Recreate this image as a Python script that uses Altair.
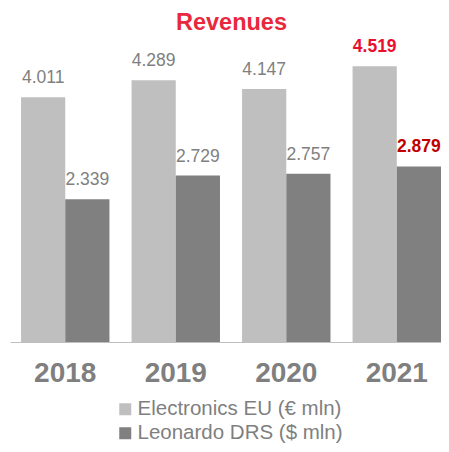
import altair as alt
import pandas as pd

years = ["2018", "2019", "2020", "2021"]
electronics_eu = [4011, 4289, 4147, 4519]
leonardo_drs = [2339, 2729, 2757, 2879]
series_names = ["Electronics EU (€ mln)", "Leonardo DRS ($ mln)"]

rows = []
for i, y in enumerate(years):
    rows.append({"year": y, "series": series_names[0], "value": electronics_eu[i]})
    rows.append({"year": y, "series": series_names[1], "value": leonardo_drs[i]})
df = pd.DataFrame(rows)

FONT = "Liberation Sans"

base = alt.Chart(df).encode(
    x=alt.X(
        "year:N",
        sort=years,
        scale=alt.Scale(paddingInner=0.2, paddingOuter=0.05, align=1),
        axis=alt.Axis(
            title=None, labelAngle=0, labelFontSize=28, labelFontWeight="bold",
            labelColor="#7f7f7f", labelFont=FONT, labelPadding=17, ticks=False,
            domainColor="#bfbfbf", domainWidth=1,
        ),
    ),
    xOffset=alt.XOffset("series:N", sort=series_names,
                        scale=alt.Scale(paddingInner=0, paddingOuter=0)),
    y=alt.Y("value:Q", scale=alt.Scale(domain=[0, 5000]), axis=None),
)

bars = base.mark_bar().encode(
    color=alt.Color(
        "series:N", sort=series_names,
        scale=alt.Scale(domain=series_names, range=["#bfbfbf", "#808080"]),
        legend=alt.Legend(
            title=None, orient="none", legendX=105, legendY=362,
            labelFontSize=20.5, labelColor="#7f7f7f", labelFont=FONT,
            labelLimit=0,
            symbolType="square", symbolSize=144, symbolStrokeWidth=0,
            labelOffset=2, rowPadding=3, direction="vertical",
        ),
    )
)

labels_normal = base.transform_filter(
    "datum.year != '2021'"
).transform_calculate(
    label="format(datum.value / 1000, '.3f')"
).mark_text(
    dy=-14, baseline="alphabetic", fontSize=17.5, color="#808080", font=FONT
).encode(text="label:N")

labels_2021 = base.transform_filter(
    "datum.year == '2021'"
).transform_calculate(
    label="format(datum.value / 1000, '.3f')"
).mark_text(
    dy=-14, baseline="alphabetic", fontSize=17.5, fontWeight="bold", font=FONT
).encode(
    text="label:N",
    color=alt.condition(
        alt.datum.series == series_names[0], alt.value("#e8102e"), alt.value("#c00000")
    ),
)

chart = alt.layer(bars, labels_normal, labels_2021).properties(
    width=431,
    height=305,
    title=alt.Title("Revenues", fontSize=23.5, fontWeight="bold", color="#e8283c",
                    font=FONT, anchor="middle", offset=3, dx=6),
    autosize=alt.AutoSizeParams(type="none"),
    padding={"left": 2, "top": 29, "right": 0, "bottom": 102},
).configure_view(stroke=None)

chart.save("out.html", embed_options={"renderer": "svg", "actions": False})
